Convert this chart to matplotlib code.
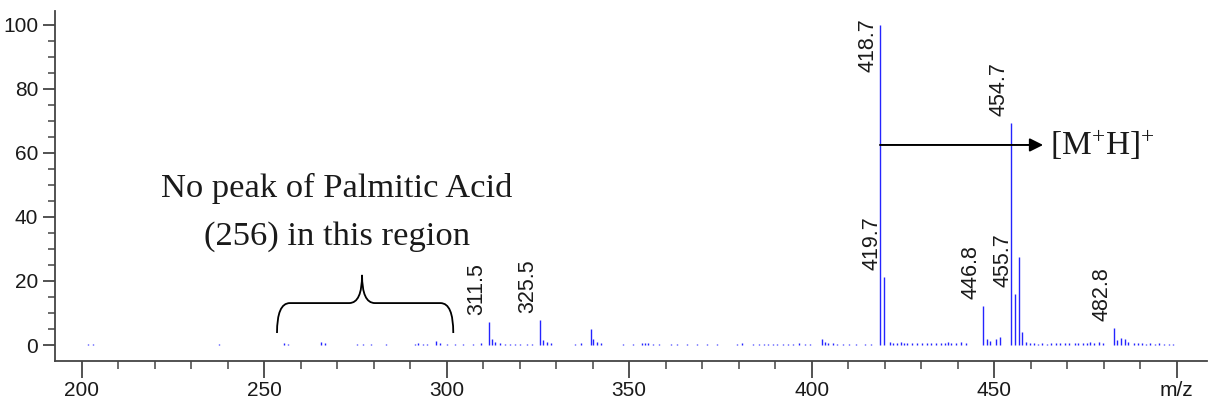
#---- Mass spectrum with Palmitic Acid note ----------------------------------#

import matplotlib
matplotlib.use('Agg')
import matplotlib.pyplot as plt
from matplotlib.path import Path
from matplotlib.patches import PathPatch
from matplotlib.ticker import MultipleLocator

#---- Data -------------------------------------------------------------------#

mz = [201.7, 203.2, 237.7, 255.4, 256.6, 265.6, 266.7, 275.3, 277.2, 279.2,
      283.4, 291.3, 292.2, 293.6, 294.5, 297.2, 298.1, 300.0, 302.3, 304.5,
      307.3, 309.5,
      311.5, 312.3, 313.2, 314.6, 316.0, 317.4, 318.8, 320.1, 321.9, 323.3,
      325.5, 326.4, 327.5, 328.7,
      335.1, 336.9, 339.5, 340.1, 341.1, 342.4,
      348.3, 351.1, 353.4, 354.3, 355.2, 356.6, 358.2,
      361.5, 363.0, 365.8, 368.5, 371.2, 374.0, 379.5,
      381.0, 384.0, 385.5, 386.8, 388.0, 389.4, 390.6, 392.0, 393.5, 395.0,
      396.6, 398.2, 399.6,
      402.7, 403.6, 404.6, 405.8, 407.0, 408.5, 410.2, 412.0, 414.5, 416.2,
      418.7, 419.7,
      421.4, 422.3, 423.4, 424.5, 425.3, 426.2, 427.5, 428.8, 430.2, 431.5,
      432.8, 434.0, 435.3, 436.4, 437.3, 438.2, 439.6, 441.0, 442.3,
      446.8, 447.9, 448.8, 450.6, 451.6,
      454.7, 455.7, 456.7, 457.7, 458.8, 459.7, 460.8, 462.0, 463.2, 464.4,
      465.5, 466.8, 468.0, 469.4, 470.5, 472.0, 473.0, 474.2, 475.3, 476.3,
      477.4, 478.6, 479.8,
      482.8, 483.7, 484.7, 485.8, 486.6, 488.2, 489.3, 490.5, 491.6, 492.8,
      494.0, 495.2, 496.5, 497.8, 499.0]

intensity = [0.3, 0.3, 0.3, 0.5, 0.3, 0.8, 0.5, 0.3, 0.3, 0.3,
             0.3, 0.4, 0.5, 0.4, 0.4, 1.2, 0.7, 0.3, 0.3, 0.3,
             0.3, 0.5,
             7.3, 2.0, 1.0, 0.5, 0.3, 0.4, 0.3, 0.3, 0.4, 0.3,
             7.8, 1.5, 0.8, 0.5,
             0.4, 0.5, 4.9, 1.8, 1.0, 0.5,
             0.3, 0.3, 0.6, 0.5, 0.5, 0.4, 0.3,
             0.4, 0.3, 0.3, 0.4, 0.3, 0.4, 0.3,
             0.5, 0.3, 0.4, 0.3, 0.4, 0.3, 0.4, 0.3, 0.4, 0.3,
             0.5, 0.4, 0.3,
             1.8, 1.0, 0.6, 0.5, 0.4, 0.4, 0.3, 0.3, 0.3, 0.4,
             100.0, 21.3,
             0.9, 0.6, 0.7, 0.8, 0.7, 0.6, 0.5, 0.5, 0.6, 0.5,
             0.6, 0.5, 0.6, 0.7, 0.9, 0.6, 0.5, 0.8, 0.6,
             12.2, 2.0, 1.4, 1.9, 2.5,
             69.5, 15.9, 27.5, 4.2, 0.9, 0.5, 0.5, 0.4, 0.5, 0.4,
             0.5, 0.6, 0.5, 0.5, 0.6, 0.5, 0.6, 0.7, 0.7, 0.8,
             0.7, 0.9, 0.6,
             5.2, 1.5, 2.2, 1.9, 1.0, 0.5, 0.6, 0.5, 0.4, 0.5,
             0.4, 0.5, 0.4, 0.4, 0.3]

label_mz = [311.5, 325.5, 418.7, 419.7, 446.8, 454.7, 455.7, 482.8]

xtick_vals = [200, 250, 300, 350, 400, 450, 500]
xtick_text = ['200', '250', '300', '350', '400', '450', 'm/z']
ytick_vals = [0, 20, 40, 60, 80, 100]

note_lines = ['No peak of Palmitic Acid', '(256) in this region']
ion_label = r'[M$^{+}$H]$^{+}$'

#---- Plotting ---------------------------------------------------------------#

plt.rcParams['font.family'] = ['Liberation Sans', 'DejaVu Sans']
plt.rcParams['mathtext.fontset'] = 'custom'
plt.rcParams['mathtext.rm'] = 'Liberation Serif'
plt.rcParams['mathtext.it'] = 'Liberation Serif:italic'

W, H = 1215, 408
fig = plt.figure(figsize=(W/100, H/100), dpi=100)
ax = fig.add_axes([55/W, 1-360.5/H, (1207-55)/W, (360.5-11.5)/H])

ax.vlines(mz, 0, intensity, color='#2424ff', lw=1.0)

ax.set_xlim(192.68, 508.3)
ax.set_ylim(-4.84, 104.2)

for s in ['top', 'right']:
    ax.spines[s].set_visible(False)
for s in ['left', 'bottom']:
    ax.spines[s].set_color('#444444')
    ax.spines[s].set_linewidth(1.3)

ax.set_xticks(xtick_vals)
ax.set_xticklabels(xtick_text)
ax.xaxis.set_minor_locator(MultipleLocator(10))
ax.set_yticks(ytick_vals)
ax.yaxis.set_minor_locator(MultipleLocator(5))
ax.tick_params(axis='x', which='major', length=12, width=1.3, color='#444444',
               labelsize=15, pad=3, labelcolor='#1a1a1a')
ax.tick_params(axis='x', which='minor', length=6, width=1.1, color='#444444')
ax.tick_params(axis='y', which='major', length=9, width=1.3, color='#444444',
               labelsize=15, pad=3, labelcolor='#1a1a1a')
ax.tick_params(axis='y', which='minor', length=5, width=1.1, color='#444444')

#peak labels, rotated, just left of each stick
for m in label_mz:
    i = mz.index(m)
    dy = 7
    if intensity[i] >= 100:             #top peak: label sits beside the line
        dy = -47
    ax.annotate(f'{m:.1f}', xy=(m, intensity[i]), xytext=(-12, dy),
                textcoords='offset pixels', rotation=90, ha='center',
                va='bottom', fontsize=15.5, color='#1a1a1a')

#arrow to the molecular ion label
ax.annotate('', xy=(463.4, 62.5), xytext=(418.7, 62.5),
            arrowprops=dict(arrowstyle='-|>', color='black', lw=1.4,
                            mutation_scale=20, shrinkA=0, shrinkB=0))
ax.text(465.3, 59.4, ion_label, fontsize=24, family='Liberation Serif',
        va='baseline', ha='left', color='#1a1a1a')

#note text
ax.text(269.9, 46.25, note_lines[0], fontsize=24.8, family='Liberation Serif',
        ha='center', va='baseline', color='#1a1a1a')
ax.text(269.9, 31.25, note_lines[1], fontsize=24.8, family='Liberation Serif',
        ha='center', va='baseline', color='#1a1a1a')

#curly brace over the empty region
x0, x1, xm = 253.5, 301.8, 276.8
yb, yh, yc = 3.75, 13.1, 21.9
r = 3.5
verts = [(x0, yb), (x0, yh), (x0+r, yh), (xm-r, yh), (xm, yh), (xm, yc),
         (xm, yh), (xm+r, yh), (x1-r, yh), (x1, yh), (x1, yb)]
codes = [Path.MOVETO, Path.CURVE3, Path.CURVE3, Path.LINETO, Path.CURVE3,
         Path.CURVE3, Path.CURVE3, Path.CURVE3, Path.LINETO, Path.CURVE3,
         Path.CURVE3]
ax.add_patch(PathPatch(Path(verts, codes), fc='none', ec='black', lw=1.3))

plt.savefig('out.png', dpi=100)
